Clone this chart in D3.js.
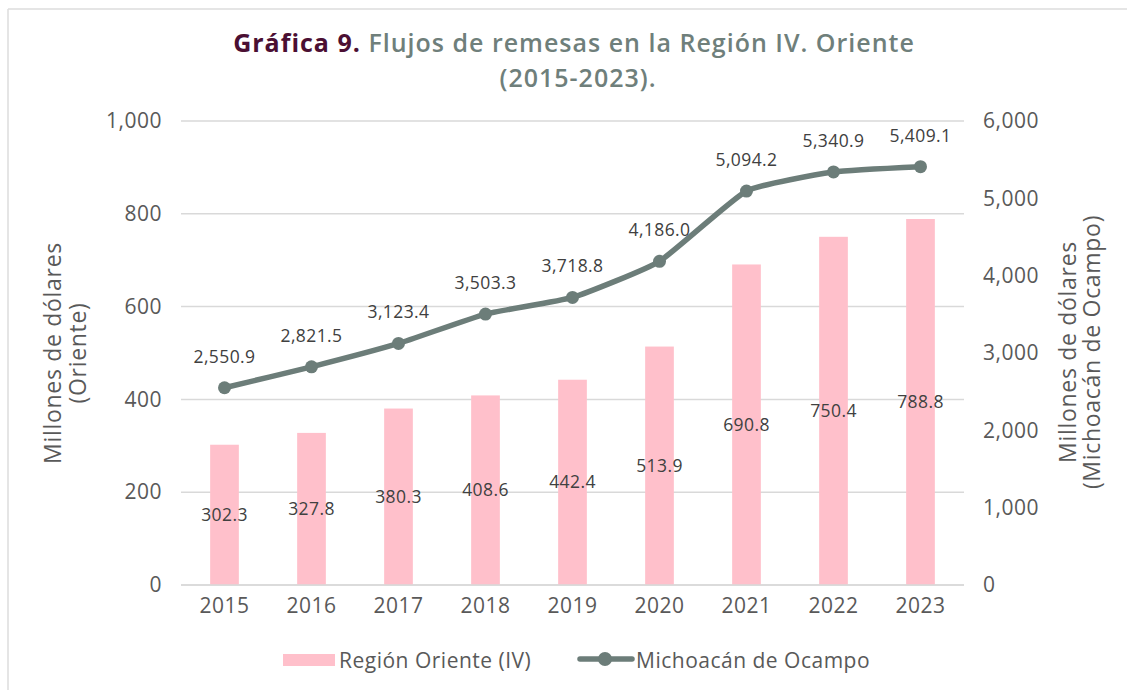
<!DOCTYPE html>
<html lang="es">
<head>
<meta charset="UTF-8">
<title>Gráfica 9</title>
<script src="https://d3js.org/d3.v7.min.js"></script>
<style>
  body { margin: 0; padding: 0; background: #fff; }
  svg { display: block; font-family: 'Open Sans', sans-serif; }
</style>
</head>
<body>
<svg width="1127" height="690"></svg>
<script>
const years = ["2015", "2016", "2017", "2018", "2019", "2020", "2021", "2022", "2023"];
const oriente = [302.3, 327.8, 380.3, 408.6, 442.4, 513.9, 690.8, 750.4, 788.8];
const michoacan = [2550.9, 2821.5, 3123.4, 3503.3, 3718.8, 4186.0, 5094.2, 5340.9, 5409.1];
const leftTicks = [0, 200, 400, 600, 800, 1000];
const rightTicks = [0, 1000, 2000, 3000, 4000, 5000, 6000];

const svg = d3.select("svg");
const plot = { left: 181, right: 964, top: 121, bottom: 585 };
const font = "'Open Sans', sans-serif";

// frame
svg.append("line").attr("x1", 8).attr("y1", 9).attr("x2", 1127).attr("y2", 9)
  .attr("stroke", "#dcdcdc").attr("stroke-width", 1.5);
svg.append("line").attr("x1", 8).attr("y1", 9).attr("x2", 8).attr("y2", 690)
  .attr("stroke", "#dcdcdc").attr("stroke-width", 1.5);

const x = d3.scaleBand().domain(years).range([plot.left, plot.right]).paddingInner(0.67).paddingOuter(0.335);
const yL = d3.scaleLinear().domain([0, 1000]).range([plot.bottom, plot.top]);
const yR = d3.scaleLinear().domain([0, 6000]).range([plot.bottom, plot.top]);
const fmt = d3.format(",.1f");

// title
const title = svg.append("text").attr("x", 574).attr("y", 52).attr("text-anchor", "middle")
  .attr("font-size", 25).attr("font-weight", 600).attr("letter-spacing", 1);
title.append("tspan").attr("fill", "#4b0f33").attr("font-weight", "bold").text("Gráfica 9. ");
title.append("tspan").attr("fill", "#6f7f7b").text("Flujos de remesas en la Región IV. Oriente");
svg.append("text").attr("x", 578).attr("y", 87).attr("text-anchor", "middle")
  .attr("font-size", 25).attr("font-weight", 600).attr("letter-spacing", 1)
  .attr("fill", "#6f7f7b").text("(2015-2023).");

// gridlines
svg.append("g").selectAll("line").data(leftTicks).join("line")
  .attr("x1", plot.left).attr("x2", plot.right)
  .attr("y1", d => yL(d)).attr("y2", d => yL(d))
  .attr("stroke", "#d9d9d9").attr("stroke-width", 1.5);

function styleAxis(g) {
  g.select(".domain").remove();
  g.selectAll("text").attr("font-size", 21).attr("letter-spacing", 0.5)
    .attr("fill", "#595959").attr("font-family", font);
}

// left axis
svg.append("g").attr("transform", `translate(${plot.left},0)`)
  .call(d3.axisLeft(yL).tickValues(leftTicks).tickFormat(d3.format(",")).tickSize(0).tickPadding(19))
  .call(styleAxis);

// right axis
svg.append("g").attr("transform", `translate(${plot.right},0)`)
  .call(d3.axisRight(yR).tickValues(rightTicks).tickFormat(d3.format(",")).tickSize(0).tickPadding(19))
  .call(styleAxis);

// bottom axis
svg.append("g").attr("transform", `translate(0,${plot.bottom})`)
  .call(d3.axisBottom(x).tickSize(0).tickPadding(13))
  .call(styleAxis);

// bars
svg.append("g").selectAll("rect").data(oriente).join("rect")
  .attr("x", (d, i) => x(years[i]))
  .attr("y", d => yL(d))
  .attr("width", x.bandwidth())
  .attr("height", d => yL(0) - yL(d))
  .attr("fill", "#ffc0cb");

// baseline
svg.append("line").attr("x1", plot.left).attr("x2", plot.right)
  .attr("y1", yL(0)).attr("y2", yL(0)).attr("stroke", "#d9d9d9").attr("stroke-width", 1.5);

// bar labels
svg.append("g").selectAll("text").data(oriente).join("text")
  .attr("x", (d, i) => x(years[i]) + x.bandwidth() / 2)
  .attr("y", d => (yL(d) + yL(0)) / 2 + 6)
  .attr("text-anchor", "middle").attr("font-size", 17.5).attr("letter-spacing", 0.4)
  .attr("fill", "#404040")
  .text(d => fmt(d));

// line
const cx = (d, i) => x(years[i]) + x.bandwidth() / 2;
const line = d3.line().x(cx).y(d => yR(d)).curve(d3.curveCardinal.tension(0.55));
svg.append("path").datum(michoacan).attr("d", line)
  .attr("fill", "none").attr("stroke", "#6c7d79").attr("stroke-width", 5.5)
  .attr("stroke-linejoin", "round");
svg.append("g").selectAll("circle").data(michoacan).join("circle")
  .attr("cx", cx).attr("cy", d => yR(d)).attr("r", 6.5).attr("fill", "#6c7d79");

svg.append("g").selectAll("text").data(michoacan).join("text")
  .attr("x", cx).attr("y", d => yR(d) - 25)
  .attr("text-anchor", "middle").attr("font-size", 17.5).attr("letter-spacing", 0.4)
  .attr("fill", "#404040")
  .text(d => fmt(d));

// axis titles
const tl = svg.append("text").attr("transform", "translate(66,353) rotate(-90)")
  .attr("text-anchor", "middle").attr("font-size", 23).attr("letter-spacing", 0.7)
  .attr("fill", "#595959");
tl.append("tspan").attr("x", 0).attr("dy", -5).text("Millones de dólares");
tl.append("tspan").attr("x", 0).attr("dy", 25).text("(Oriente)");

const tr = svg.append("text").attr("transform", "translate(1076,352) rotate(-90)")
  .attr("text-anchor", "middle").attr("font-size", 23).attr("letter-spacing", 0.7)
  .attr("fill", "#595959");
tr.append("tspan").attr("x", 0).attr("dy", 0).text("Millones de dólares");
tr.append("tspan").attr("x", 0).attr("dy", 24).text("(Michoacán de Ocampo)");

// legend
const lg = svg.append("g");
lg.append("rect").attr("x", 283).attr("y", 654).attr("width", 52).attr("height", 12).attr("fill", "#ffc0cb");
lg.append("text").attr("x", 339).attr("y", 668).attr("font-size", 21).attr("letter-spacing", 0.5)
  .attr("fill", "#595959").text("Región Oriente (IV)");
lg.append("line").attr("x1", 580).attr("x2", 632).attr("y1", 659).attr("y2", 659)
  .attr("stroke", "#6c7d79").attr("stroke-width", 5.5).attr("stroke-linecap", "round");
lg.append("circle").attr("cx", 605).attr("cy", 659).attr("r", 7).attr("fill", "#6c7d79");
lg.append("text").attr("x", 636).attr("y", 668).attr("font-size", 21).attr("letter-spacing", 0.5)
  .attr("fill", "#595959").text("Michoacán de Ocampo");
</script>
</body>
</html>
